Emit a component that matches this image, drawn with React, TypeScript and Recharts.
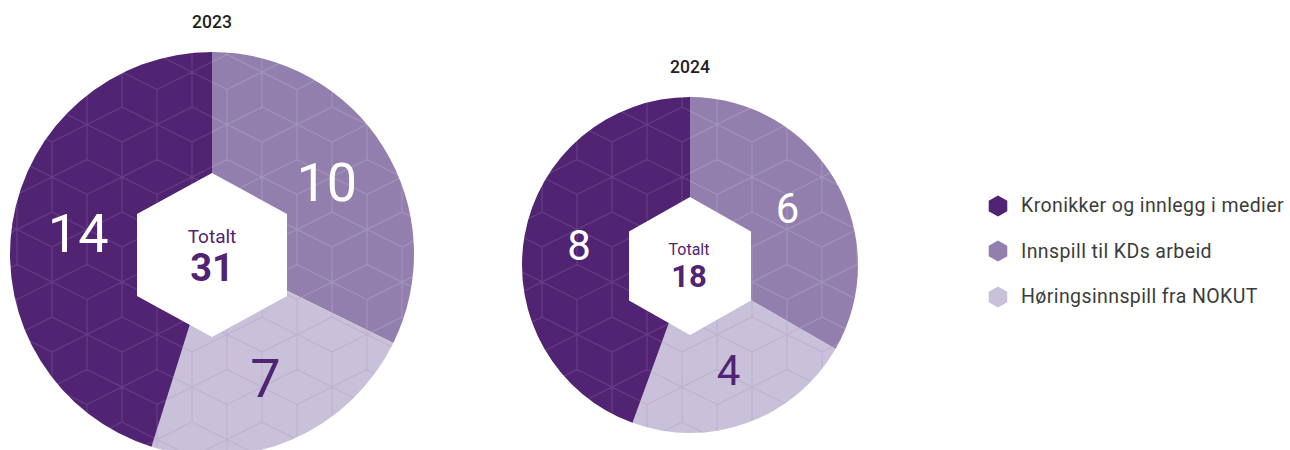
import React from "react";
import { PieChart, Pie, Cell } from "recharts";

// kategorier i legend-rekkefølge
const categories = [
  "Kronikker og innlegg i medier",
  "Innspill til KDs arbeid",
  "Høringsinnspill fra NOKUT",
];
const values2023 = [14, 10, 7];
const values2024 = [8, 6, 4];
// rekkefølge rundt sirkelen, med klokka fra kl. 12
const pieOrder = [1, 2, 0];

const colors = ["#512373", "#927fae", "#c9c0da"];
const lineColors = [
  "rgba(255,255,255,0.11)",
  "rgba(255,255,255,0.14)",
  "rgba(110,80,150,0.12)",
];
const labelColors = ["#ffffff", "#ffffff", "#512373"];
const FONT = "Roboto, 'Noto Sans', sans-serif";

const toPieData = (values: number[]) =>
  pieOrder.map((i) => ({ name: categories[i], value: values[i], idx: i }));

const data2023 = toPieData(values2023);
const data2024 = toPieData(values2024);
const total = (v: number[]) => v.reduce((a, b) => a + b, 0);

// kube-mønster (rombemønster)
function cubePath(w: number, v: number) {
  const h = v / 2;
  const p = v + h;
  const centers = [
    [0, 0], [w, 0], [w / 2, p], [0, 2 * p], [w, 2 * p], [w / 2, -p], [w / 2, 3 * p],
  ];
  let d = "";
  centers.forEach(([x, y]) => {
    const top = `${x},${y - v / 2 - h}`;
    const ur = `${x + w / 2},${y - v / 2}`;
    const lr = `${x + w / 2},${y + v / 2}`;
    const bot = `${x},${y + v / 2 + h}`;
    const ll = `${x - w / 2},${y + v / 2}`;
    const ul = `${x - w / 2},${y - v / 2}`;
    d += `M${top}L${ur}L${lr}L${bot}L${ll}L${ul}Z M${x},${y}L${bot} M${x},${y}L${ur} M${x},${y}L${ul} `;
  });
  return d;
}

const PatternDefs = () => (
  <svg width={0} height={0} style={{ position: "absolute" }}>
    <defs>
      {colors.map((c, i) => (
        <pattern
          key={i}
          id={`cube-${i}`}
          patternUnits="userSpaceOnUse"
          width={70}
          height={105}
          patternTransform="translate(52,37)"
        >
          <rect width={70} height={105} fill={c} />
          <path d={cubePath(70, 35)} stroke={lineColors[i]} strokeWidth={1.2} fill="none" />
        </pattern>
      ))}
    </defs>
  </svg>
);

const RAD = Math.PI / 180;

const makeLabel = (fontSize: number) => (props: any) => {
  const { cx, cy, midAngle, outerRadius, value, payload } = props;
  const r = outerRadius * 0.67;
  const x = cx + r * Math.cos(-midAngle * RAD);
  const y = cy + r * Math.sin(-midAngle * RAD);
  const idx = payload?.idx ?? props.idx;
  return (
    <text
      x={x}
      y={y}
      fill={labelColors[idx]}
      textAnchor="middle"
      dominantBaseline="central"
      fontFamily={FONT}
      fontWeight={400}
      fontSize={fontSize}
    >
      {value}
    </text>
  );
};

const hexPoints = (cx: number, cy: number, r: number, hw: number) =>
  [
    [cx, cy - r],
    [cx + hw, cy - r / 2],
    [cx + hw, cy + r / 2],
    [cx, cy + r],
    [cx - hw, cy + r / 2],
    [cx - hw, cy - r / 2],
  ]
    .map((p) => p.join(","))
    .join(" ");

// sekskant med totalsum oppå hver kake
const Centers = () => (
  <svg width={1290} height={450} style={{ position: "absolute", left: 0, top: 0, pointerEvents: "none" }}>
    <polygon points={hexPoints(212, 255, 82, 75)} fill="#ffffff" />
    <text x={212} y={236} textAnchor="middle" dominantBaseline="central" fill="#512373" fontFamily={FONT} fontSize={19}>
      Totalt
    </text>
    <text x={212} y={268} textAnchor="middle" dominantBaseline="central" fill="#512373" fontFamily={FONT} fontWeight={700} fontSize={38}>
      {total(values2023)}
    </text>
    <polygon points={hexPoints(690, 266, 69, 61)} fill="#ffffff" />
    <text x={689} y={249} textAnchor="middle" dominantBaseline="central" fill="#512373" fontFamily={FONT} fontSize={16}>
      Totalt
    </text>
    <text x={689} y={276} textAnchor="middle" dominantBaseline="central" fill="#512373" fontFamily={FONT} fontWeight={700} fontSize={31}>
      {total(values2024)}
    </text>
    <text x={212} y={22} textAnchor="middle" dominantBaseline="central" fill="#222" fontFamily={FONT} fontWeight={500} fontSize={17.5}>
      2023
    </text>
    <text x={690} y={67} textAnchor="middle" dominantBaseline="central" fill="#222" fontFamily={FONT} fontWeight={500} fontSize={17.5}>
      2024
    </text>
  </svg>
);

const LegendBox = () => (
  <div style={{ position: "absolute", left: 987, top: 183, fontFamily: FONT }}>
    {categories.map((c, i) => (
      <div key={c} style={{ display: "flex", alignItems: "center", height: 45.5 }}>
        <svg width={22} height={22} style={{ marginRight: 12 }}>
          <polygon points={hexPoints(11, 11, 10.5, 9.3)} fill={colors[i]} />
        </svg>
        <span style={{ fontSize: 19.5, letterSpacing: 0.4, color: "#3c3c3c" }}>{c}</span>
      </div>
    ))}
  </div>
);

export default function App() {
  return (
    <div style={{ position: "absolute", left: 0, top: 0, width: 1290, height: 450 }}>
      <PatternDefs />
      <PieChart width={1290} height={450} margin={{ top: 0, right: 0, bottom: 0, left: 0 }}>
        <Pie
          data={data2023}
          dataKey="value"
          nameKey="name"
          cx={212}
          cy={254}
          outerRadius={202}
          startAngle={90}
          endAngle={-270}
          stroke="none"
          labelLine={false}
          label={makeLabel(54)}
          isAnimationActive={false}
        >
          {data2023.map((d) => (
            <Cell key={d.name} fill={`url(#cube-${d.idx})`} />
          ))}
        </Pie>
        <Pie
          data={data2024}
          dataKey="value"
          nameKey="name"
          cx={690}
          cy={265}
          outerRadius={168}
          startAngle={90}
          endAngle={-270}
          stroke="none"
          labelLine={false}
          label={makeLabel(42)}
          isAnimationActive={false}
        >
          {data2024.map((d) => (
            <Cell key={d.name} fill={`url(#cube-${d.idx})`} />
          ))}
        </Pie>
      </PieChart>
      <Centers />
      <LegendBox />
    </div>
  );
}
